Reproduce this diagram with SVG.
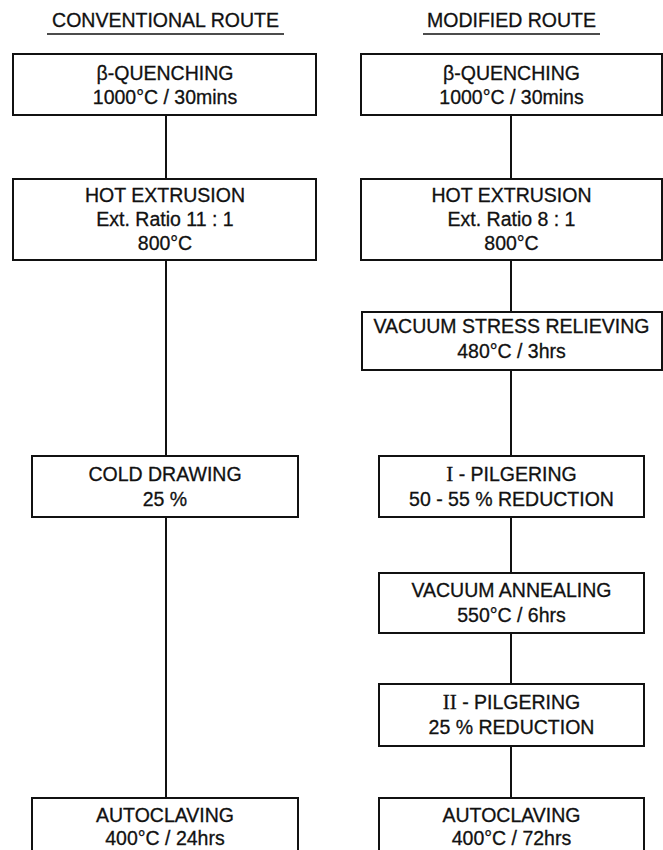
<svg xmlns="http://www.w3.org/2000/svg" width="663" height="850" viewBox="0 0 663 850">
<style>
text{font-family:"Liberation Sans",Arial,sans-serif;font-size:19.5px;fill:#111;stroke:#111;stroke-width:0.3;text-anchor:middle}
.title{font-size:19.5px}
.box{fill:#fff;stroke:#111;stroke-width:2}
.conn line{stroke:#111;stroke-width:2}
.ul{stroke:#111;stroke-width:1.6}
.rn{font-family:"Liberation Serif","Times New Roman",serif;font-size:21px}
</style>
<rect width="663" height="850" fill="#fff"/>
<g id="titles">
<text class="title" x="165.5" y="27">CONVENTIONAL ROUTE</text>
<line class="ul" x1="47" y1="34" x2="284" y2="34"/>
<text class="title" x="511.5" y="27">MODIFIED ROUTE</text>
<line class="ul" x1="423" y1="34" x2="600" y2="34"/>
</g>
<g id="connectors" class="conn">
<line x1="166" y1="115" x2="166" y2="179"/>
<line x1="166" y1="260" x2="166" y2="456"/>
<line x1="166" y1="517" x2="166" y2="798"/>
<line x1="511" y1="115" x2="511" y2="179"/>
<line x1="511" y1="260" x2="511" y2="312"/>
<line x1="511" y1="370" x2="511" y2="456"/>
<line x1="511" y1="517" x2="511" y2="573"/>
<line x1="511" y1="633" x2="511" y2="684"/>
<line x1="511" y1="746" x2="511" y2="798"/>
</g>
<g id="c-quench">
<rect class="box" x="13" y="54" width="303" height="61"/>
<text x="165" y="80">β-QUENCHING</text>
<text x="165" y="104">1000°C / 30mins</text>
</g>
<g id="c-extrusion">
<rect class="box" x="13" y="179" width="303" height="81"/>
<text x="165" y="202">HOT EXTRUSION</text>
<text x="165" y="226">Ext. Ratio 11 : 1</text>
<text x="165" y="250">800°C</text>
</g>
<g id="c-cold">
<rect class="box" x="32" y="456" width="266" height="61"/>
<text x="165" y="481">COLD DRAWING</text>
<text x="165" y="506">25 %</text>
</g>
<g id="c-auto">
<rect class="box" x="32" y="798" width="266" height="60"/>
<text x="165" y="822">AUTOCLAVING</text>
<text x="165" y="845">400°C / 24hrs</text>
</g>
<g id="m-quench">
<rect class="box" x="361" y="54" width="301" height="61"/>
<text x="511.5" y="80">β-QUENCHING</text>
<text x="511.5" y="104">1000°C / 30mins</text>
</g>
<g id="m-extrusion">
<rect class="box" x="361" y="179" width="301" height="81"/>
<text x="511.5" y="202">HOT EXTRUSION</text>
<text x="511.5" y="226">Ext. Ratio 8 : 1</text>
<text x="511.5" y="250">800°C</text>
</g>
<g id="m-stress">
<rect class="box" x="362" y="312" width="300" height="58"/>
<text x="511.5" y="333">VACUUM STRESS RELIEVING</text>
<text x="511.5" y="358">480°C / 3hrs</text>
</g>
<g id="m-pilger1">
<rect class="box" x="379" y="456" width="265" height="61"/>
<text x="511.5" y="481"><tspan class="rn">I</tspan> - PILGERING</text>
<text x="511.5" y="506">50 - 55 % REDUCTION</text>
</g>
<g id="m-anneal">
<rect class="box" x="379" y="573" width="265" height="60"/>
<text x="511.5" y="597">VACUUM ANNEALING</text>
<text x="511.5" y="622">550°C / 6hrs</text>
</g>
<g id="m-pilger2">
<rect class="box" x="379" y="684" width="265" height="62"/>
<text x="511.5" y="709"><tspan class="rn">II</tspan> - PILGERING</text>
<text x="511.5" y="734">25 % REDUCTION</text>
</g>
<g id="m-auto">
<rect class="box" x="379" y="798" width="265" height="60"/>
<text x="511.5" y="822">AUTOCLAVING</text>
<text x="511.5" y="845">400°C / 72hrs</text>
</g>
</svg>
